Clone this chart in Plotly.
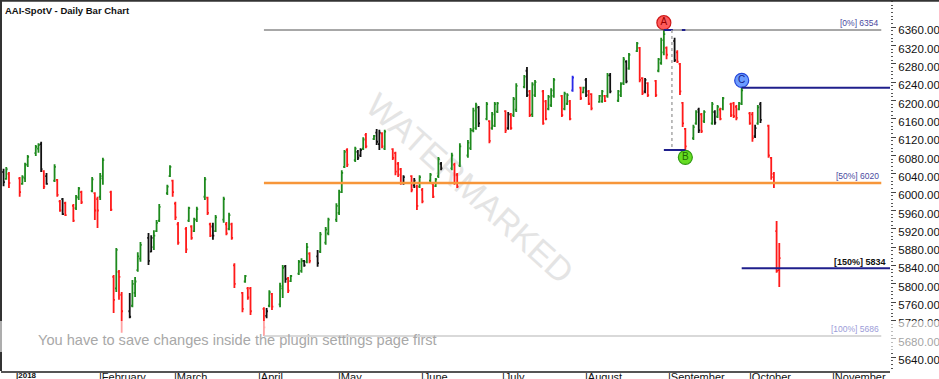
import plotly.graph_objects as go

# ---------------- data ----------------
dates = [
    "2017-12-27", "2017-12-28", "2017-12-29",
    "2018-01-02", "2018-01-03", "2018-01-04", "2018-01-05",
    "2018-01-08", "2018-01-09", "2018-01-10", "2018-01-11", "2018-01-12",
    "2018-01-15", "2018-01-16", "2018-01-17", "2018-01-18", "2018-01-19",
    "2018-01-22", "2018-01-23", "2018-01-24", "2018-01-25",
    "2018-01-29", "2018-01-30", "2018-01-31", "2018-02-01", "2018-02-02",
    "2018-02-05", "2018-02-06", "2018-02-07", "2018-02-08", "2018-02-09",
    "2018-02-12", "2018-02-13", "2018-02-14", "2018-02-15", "2018-02-16",
    "2018-02-19", "2018-02-20", "2018-02-21", "2018-02-22", "2018-02-23",
    "2018-02-26", "2018-02-27", "2018-02-28", "2018-03-01", "2018-03-02",
    "2018-03-05", "2018-03-06", "2018-03-07", "2018-03-08", "2018-03-09",
    "2018-03-12", "2018-03-13", "2018-03-14", "2018-03-15", "2018-03-16",
    "2018-03-19", "2018-03-20", "2018-03-21", "2018-03-22", "2018-03-23",
    "2018-03-26", "2018-03-27", "2018-03-28", "2018-03-29",
    "2018-04-03", "2018-04-04", "2018-04-05", "2018-04-06",
    "2018-04-09", "2018-04-10", "2018-04-11", "2018-04-12", "2018-04-13",
    "2018-04-16", "2018-04-17", "2018-04-18", "2018-04-19", "2018-04-20",
    "2018-04-23", "2018-04-24", "2018-04-26", "2018-04-27",
    "2018-04-30", "2018-05-01", "2018-05-02", "2018-05-03", "2018-05-04",
    "2018-05-07", "2018-05-08", "2018-05-09", "2018-05-10", "2018-05-11",
    "2018-05-14", "2018-05-15", "2018-05-16", "2018-05-17", "2018-05-18",
    "2018-05-21", "2018-05-22", "2018-05-23", "2018-05-24", "2018-05-25",
    "2018-05-28", "2018-05-29", "2018-05-30", "2018-05-31", "2018-06-01",
    "2018-06-04", "2018-06-05", "2018-06-06", "2018-06-07", "2018-06-08",
    "2018-06-12", "2018-06-13", "2018-06-14", "2018-06-15",
    "2018-06-18", "2018-06-19", "2018-06-20", "2018-06-21", "2018-06-22",
    "2018-06-25", "2018-06-26", "2018-06-27", "2018-06-28", "2018-06-29",
    "2018-07-02", "2018-07-03", "2018-07-04", "2018-07-05", "2018-07-06",
    "2018-07-09", "2018-07-10", "2018-07-11", "2018-07-12", "2018-07-13",
    "2018-07-16", "2018-07-17", "2018-07-18", "2018-07-19", "2018-07-20",
    "2018-07-23", "2018-07-24", "2018-07-25", "2018-07-26", "2018-07-27",
    "2018-07-30", "2018-07-31", "2018-08-01", "2018-08-02", "2018-08-03",
    "2018-08-06", "2018-08-07", "2018-08-08", "2018-08-09", "2018-08-10",
    "2018-08-13", "2018-08-14", "2018-08-15", "2018-08-16", "2018-08-17",
    "2018-08-20", "2018-08-21", "2018-08-22", "2018-08-23", "2018-08-24",
    "2018-08-27", "2018-08-28", "2018-08-29", "2018-08-30", "2018-08-31",
    "2018-09-03", "2018-09-04", "2018-09-05", "2018-09-06", "2018-09-07",
    "2018-09-10", "2018-09-11", "2018-09-12", "2018-09-13", "2018-09-14",
    "2018-09-17", "2018-09-18", "2018-09-19", "2018-09-20", "2018-09-21",
    "2018-09-24", "2018-09-25", "2018-09-26", "2018-09-27", "2018-09-28",
    "2018-10-01", "2018-10-02", "2018-10-03", "2018-10-04", "2018-10-05",
    "2018-10-08", "2018-10-09", "2018-10-10", "2018-10-11", "2018-10-12",
]

opens = [
    6044, 6029, 6040,
    6030, 6018, 6030, 6060,
    6085, 6095, 6105, 6046, 6035,
    6025, 6027, 5980, 5985, 5976,
    5970, 5965, 5988, 6000,
    6003, 5998, 5985, 5990, 6030,
    6000, 5815, 5790, 5826, 5776,
    5740, 5752, 5780, 5830, 5855,
    5900, 5870, 5880, 5915, 5938,
    5998, 6035, 6025, 5975, 5930,
    5920, 5938, 5925, 5915, 5940,
    5990, 5988, 5930, 5925, 5915,
    5940, 5930, 5920, 5930, 5840,
    5780, 5805, 5790, 5790,
    5745, 5730, 5752, 5778,
    5755, 5790, 5838, 5812, 5806,
    5822, 5828, 5850, 5848, 5866,
    5860, 5870, 5890, 5910,
    5940, 5955, 6000, 6055, 6092,
    6070, 6088, 6080, 6095, 6125,
    6116, 6130, 6105, 6128, 6095,
    6094, 6085, 6062, 6050, 6020,
    6035, 6015, 6012, 6012, 6005,
    6025, 6018, 6013, 6035, 6062,
    6052, 6060, 6038, 6058,
    6080, 6096, 6135, 6140, 6185,
    6160, 6155, 6140, 6145, 6176,
    6177, 6140, 6170, 6168, 6180,
    6230, 6265, 6220, 6170, 6212,
    6220, 6198, 6182, 6190, 6210,
    6210, 6182, 6193, 6198, 6222,
    6228, 6218, 6245, 6220, 6214,
    6197, 6198, 6210, 6210, 6255,
    6200, 6212, 6238, 6285, 6270,
    6308, 6315, 6249, 6220, 6238,
    6243, 6265, 6282, 6305, 6315,
    6330, 6305, 6280, 6195, 6138,
    6118, 6150, 6180, 6170, 6155,
    6150, 6175, 6165, 6180, 6182,
    6192, 6194, 6186, 6181, 6193,
    6172, 6170, 6122, 6150, 6192,
    6145, 6075, 6040, 5915, 5830,
]

highs = [
    6051, 6055, 6044,
    6033, 6037, 6064, 6081,
    6103, 6107, 6110, 6048, 6042,
    6061, 6029, 5983, 5987, 5979,
    5974, 5994, 6011, 6003,
    6033, 6000, 5990, 6042, 6075,
    6003, 5819, 5878, 5830, 5782,
    5780, 5808, 5815, 5869, 5891,
    5911, 5906, 5917, 5939, 5974,
    6016, 6059, 6027, 5979, 5935,
    5924, 5968, 5928, 5944, 5968,
    6033, 5990, 5933, 5933, 5950,
    5990, 5935, 5955, 5933, 5845,
    5782, 5819, 5793, 5793,
    5749, 5747, 5786, 5780,
    5802, 5841, 5841, 5815, 5819,
    5852, 5856, 5852, 5889, 5869,
    5874, 5913, 5924, 5944,
    5976, 6005, 6048, 6092, 6096,
    6099, 6092, 6096, 6120, 6129,
    6125, 6138, 6136, 6131, 6136,
    6096, 6088, 6066, 6053, 6037,
    6037, 6031, 6016, 6037, 6009,
    6042, 6020, 6031, 6077, 6066,
    6086, 6064, 6042, 6107,
    6114, 6140, 6184, 6195, 6188,
    6197, 6157, 6175, 6197, 6197,
    6179, 6175, 6173, 6208, 6238,
    6256, 6273, 6223, 6240, 6245,
    6223, 6201, 6212, 6227, 6249,
    6212, 6219, 6216, 6201, 6254,
    6230, 6230, 6249, 6223, 6216,
    6212, 6223, 6212, 6260, 6260,
    6223, 6240, 6295, 6288, 6304,
    6328, 6317, 6251, 6249, 6240,
    6245, 6293, 6337, 6354, 6318,
    6337, 6310, 6282, 6197, 6140,
    6147, 6179, 6184, 6173, 6179,
    6197, 6179, 6190, 6184, 6208,
    6195, 6197, 6190, 6197, 6228,
    6175, 6175, 6147, 6190, 6197,
    6147, 6077, 6044, 5937, 5889,
]

lows = [
    6013, 6027, 6009,
    5990, 6016, 6022, 6055,
    6079, 6086, 6044, 6007, 6016,
    6022, 5990, 5957, 5950, 5948,
    5935, 5961, 5983, 5974,
    6000, 5939, 5922, 5983, 6016,
    5959, 5736, 5782, 5765, 5693,
    5725, 5749, 5771, 5826, 5848,
    5841, 5869, 5874, 5913, 5935,
    5994, 6033, 5990, 5939, 5885,
    5867, 5935, 5896, 5913, 5935,
    5983, 5950, 5902, 5896, 5913,
    5933, 5906, 5917, 5896, 5791,
    5738, 5802, 5765, 5732,
    5686, 5725, 5749, 5743,
    5749, 5769, 5802, 5780, 5804,
    5819, 5824, 5837, 5845, 5845,
    5837, 5867, 5885, 5906,
    5935, 5950, 5998, 6053, 6055,
    6066, 6070, 6077, 6092, 6096,
    6114, 6103, 6092, 6096, 6092,
    6070, 6037, 6033, 6016, 6016,
    6000, 6009, 5961, 6009, 5976,
    6022, 5987, 6011, 6031, 6048,
    6048, 6016, 6009, 6055,
    6075, 6092, 6131, 6136, 6142,
    6157, 6107, 6136, 6142, 6173,
    6129, 6136, 6136, 6164, 6175,
    6227, 6208, 6164, 6164, 6208,
    6147, 6157, 6179, 6186, 6206,
    6164, 6179, 6190, 6157, 6219,
    6201, 6216, 6208, 6190, 6179,
    6195, 6195, 6197, 6206, 6216,
    6197, 6208, 6234, 6238, 6267,
    6306, 6240, 6212, 6216, 6208,
    6208, 6262, 6278, 6299, 6290,
    6284, 6282, 6212, 6142, 6092,
    6114, 6147, 6129, 6129, 6151,
    6147, 6147, 6162, 6157, 6179,
    6164, 6162, 6157, 6179, 6190,
    6147, 6110, 6118, 6147, 6151,
    6075, 6027, 6009, 5824, 5793,
]

closes = [
    6022, 6050, 6020,
    6000, 6033, 6060, 6077,
    6099, 6103, 6050, 6012, 6018,
    6055, 5994, 5960, 5952, 5950,
    5938, 5990, 6008, 5978,
    6028, 5960, 5960, 6035, 6070,
    5962, 5765, 5874, 5815, 5740,
    5728, 5800, 5805, 5860, 5885,
    5850, 5900, 5905, 5933, 5968,
    6012, 6055, 6000, 5945, 5890,
    5875, 5965, 5900, 5940, 5963,
    6028, 5955, 5905, 5905, 5945,
    5985, 5910, 5950, 5900, 5800,
    5745, 5817, 5770, 5740,
    5705, 5740, 5782, 5750,
    5795, 5835, 5810, 5785, 5817,
    5848, 5850, 5840, 5880, 5850,
    5845, 5908, 5918, 5940,
    5970, 6000, 6042, 6088, 6060,
    6095, 6075, 6092, 6115, 6100,
    6123, 6110, 6130, 6100, 6132,
    6075, 6045, 6038, 6020, 6033,
    6005, 6025, 5970, 6033, 5980,
    6038, 5990, 6028, 6072, 6052,
    6080, 6020, 6012, 6100,
    6108, 6135, 6178, 6190, 6150,
    6192, 6112, 6170, 6192, 6194,
    6135, 6170, 6140, 6203, 6232,
    6252, 6212, 6168, 6235, 6240,
    6150, 6160, 6208, 6222, 6245,
    6168, 6215, 6212, 6160, 6250,
    6205, 6228, 6212, 6193, 6183,
    6210, 6220, 6199, 6255, 6220,
    6220, 6236, 6290, 6242, 6300,
    6325, 6245, 6216, 6245, 6212,
    6212, 6290, 6332, 6345, 6300,
    6288, 6285, 6220, 6150, 6100,
    6142, 6175, 6135, 6133, 6175,
    6192, 6152, 6186, 6160, 6205,
    6168, 6166, 6162, 6194, 6222,
    6150, 6118, 6140, 6185, 6158,
    6080, 6033, 6020, 5828, 5856,
]

# bar classification used by the charting package (g=up, r=down, k=neutral, b=flagged)
bar_class = list(
    "kgr" "rggg" "ggkrk" "grrkr" "rggr" "grrgg" "rrgrr" "kgggg" "kkggg"
    "ggrrr" "rgrgg" "grrkg" "grgrr" "rgrr" "rkgr" "ggkrg" "ggkgr" "kggg"
    "ggggr" "gkkgr" "gkkrg" "rrrrk" "rkrgr" "grggk" "grrg" "ggggk" "grggg"
    "rkrgg" "gkrgg" "rrggg" "rggrb" "rgkrr" "ggrgk" "gggkg" "grrkr" "rgggr"
    "krrrr" "ggkrg" "gkgrg" "rrrgg" "rrkgk" "rrrrr"
)

# retracement levels shown on the chart
level_pct = ["0%", "50%", "100%", "150%"]
level_val = [6354, 6020, 5686, 5834]

# A-B-C pivots
pivot_names = ["A", "B", "C"]
pivot_dates = ["2018-08-30", "2018-09-07", "2018-09-28"]
pivot_side = ["high", "low", "high"]
measure_date = "2018-09-02"

month_dates = ["2018-01-01", "2018-02-01", "2018-03-01", "2018-04-01", "2018-05-01",
               "2018-06-01", "2018-07-01", "2018-08-01", "2018-09-01", "2018-10-01",
               "2018-11-01"]
month_names = ["2018", "February", "March", "April", "May", "June", "July",
               "August", "September", "October", "November"]

y_ticks = list(range(5640, 6361, 40))

assert len(dates) == len(opens) == len(highs) == len(lows) == len(closes) == len(bar_class)

# ---------------- figure ----------------
X_START = "2017-12-26 01:00"
X_END = "2018-11-22 06:00"
LINE_END = "2018-11-19"

colors = {"g": "#1e8a1e", "r": "#ff1a1a", "k": "#111111", "b": "#2a2ae8"}

fig = go.Figure()
for cls, col in colors.items():
    def pick(arr):
        return [v if c == cls else None for v, c in zip(arr, bar_class)]
    fig.add_trace(go.Ohlc(
        x=dates, open=pick(opens), high=pick(highs), low=pick(lows), close=pick(closes),
        increasing=dict(line=dict(color=col, width=1.8)),
        decreasing=dict(line=dict(color=col, width=1.8)),
        tickwidth=0.5, showlegend=False, hoverinfo="skip",
    ))

lvl = dict(zip(level_pct, level_val))
low_date = dates[lows.index(min(lows))]
piv_val = []
for d, s in zip(pivot_dates, pivot_side):
    i = dates.index(d)
    piv_val.append(highs[i] if s == "high" else lows[i])
A_d, B_d, C_d = pivot_dates
A_v, B_v, C_v = piv_val

shapes = []
# watermark (below the bars)
shapes.append(dict(type="rect", xref="paper", yref="paper", x0=0.42, x1=0.64, y0=0.25, y1=0.75,
                   line=dict(width=0), fillcolor="rgba(0,0,0,0)", layer="below",
                   label=dict(text="WATERMARKED", textangle=42, textposition="middle center",
                              font=dict(size=34, color="#e4e4e4", family="Liberation Sans"))))
# retracement lines
shapes.append(dict(type="line", xref="x", yref="y", x0=low_date, x1=LINE_END, y0=lvl["0%"], y1=lvl["0%"],
                   line=dict(color="#505050", width=1)))
shapes.append(dict(type="line", xref="x", yref="y", x0=low_date, x1=LINE_END, y0=lvl["50%"], y1=lvl["50%"],
                   line=dict(color="#f7963a", width=2.5)))
shapes.append(dict(type="line", xref="x", yref="y", x0=low_date, x1=LINE_END, y0=lvl["100%"], y1=lvl["100%"],
                   line=dict(color="#808080", width=1.5)))
shapes.append(dict(type="line", xref="x", yref="y", x0=C_d, x1=X_END, y0=lvl["150%"], y1=lvl["150%"],
                   line=dict(color="#1f1f8c", width=2)))
# ABC helper lines
shapes.append(dict(type="line", xref="x", yref="y", x0=C_d, x1=X_END, y0=C_v, y1=C_v,
                   line=dict(color="#1f1f8c", width=2)))
shapes.append(dict(type="line", xref="x", yref="y", x0=A_d, x1=B_d, y0=B_v, y1=B_v,
                   line=dict(color="#1f1f8c", width=2)))
shapes.append(dict(type="line", xref="x", yref="y", x0=A_d, x1=B_d, y0=A_v, y1=A_v,
                   line=dict(color="#1f1f8c", width=2, dash="dash")))
shapes.append(dict(type="line", xref="x", yref="y", x0=measure_date, x1=measure_date, y0=A_v, y1=B_v,
                   line=dict(color="#a8a8a8", width=1.5, dash="dot")))
# frame
shapes.append(dict(type="line", xref="paper", yref="paper", x0=0, x1=0, y0=0, y1=1.003,
                   line=dict(color="#333333", width=2), layer="above"))
shapes.append(dict(type="line", xref="paper", yref="paper", x0=0, x1=1.06, y0=1.001, y1=1.001,
                   line=dict(color="#333333", width=2), layer="above"))
# translucent notice band
shapes.append(dict(type="rect", xref="paper", yref="paper", x0=-0.01, x1=1.06, y0=0.0514, y1=0.135,
                   line=dict(width=0), fillcolor="rgba(255,255,255,0.6)", layer="above"))
fig.update_layout(shapes=shapes)

# pivot circles
circle_fill = ["#ff5c5c", "#66dd22", "#6c9cff"]
circle_line = ["#d01818", "#2f9a10", "#2244d8"]
circle_text = ["#9a0000", "#1f6a00", "#10208a"]
offs = [16, -16, 16]
fig.add_trace(go.Scatter(
    x=pivot_dates, y=[v + o for v, o in zip(piv_val, offs)], mode="markers+text",
    text=pivot_names, textposition="middle center",
    textfont=dict(size=10, color=circle_text, family="Liberation Sans"),
    marker=dict(size=14, color=circle_fill, line=dict(color=circle_line, width=1.2)),
    showlegend=False, hoverinfo="skip", cliponaxis=False,
))

annotations = []
# title
annotations.append(dict(xref="paper", yref="paper", x=0, y=1, xanchor="left", yanchor="top",
                        xshift=2, yshift=-2, showarrow=False,
                        text="<b>AAI-SpotV - Daily Bar Chart</b>",
                        font=dict(size=9.5, color="#111111", family="Liberation Sans")))
# level labels
lbl_color = {"0%": "#4a4aa0", "50%": "#4a4aa0", "100%": "#9c9cd8"}
for p, v in zip(level_pct, level_val):
    if p == "150%":
        annotations.append(dict(xref="x", yref="y", x=LINE_END, y=v, xanchor="right", yanchor="bottom",
                                xshift=7, yshift=-1, showarrow=False, text=f"<b>[{p}] {v}</b>",
                                font=dict(size=9, color="#111111", family="Liberation Sans")))
    else:
        annotations.append(dict(xref="x", yref="y", x=LINE_END, y=v, xanchor="right", yanchor="bottom",
                                xshift=0, yshift=0, showarrow=False, text=f"[{p}] {v}",
                                font=dict(size=8.5, color=lbl_color[p], family="Liberation Sans")))
# month labels (the reference shows them partly cut by the bottom edge)
for d, m in zip(month_dates, month_names):
    t = f"<b>|{m}</b>" if m == "2018" else f"|{m}"
    annotations.append(dict(xref="x", yref="paper", x=d, y=0, xanchor="left", yanchor="top",
                            xshift=-3, yshift=2, showarrow=False, text=t,
                            font=dict(size=8 if m == "2018" else 11, color="#111111",
                                      family="Liberation Sans")))
# notice text
annotations.append(dict(xref="paper", yref="paper", x=0.0394, y=0.0838, xanchor="left", yanchor="middle",
                        showarrow=False,
                        text="You have to save changes inside the plugin settings page first",
                        font=dict(size=14.6, color="#a8a8a8", family="Liberation Sans")))
fig.update_layout(annotations=annotations)

fig.update_layout(
    template="none",
    width=939, height=379,
    margin=dict(l=1, r=49, t=1, b=8, pad=0),
    paper_bgcolor="white", plot_bgcolor="white",
    showlegend=False,
    xaxis=dict(type="date", range=[X_START, X_END], showgrid=False, zeroline=False,
               showticklabels=False, ticks="", showline=True, linecolor="#555555", linewidth=1.5,
               rangeslider=dict(visible=False), automargin=False, fixedrange=True),
    yaxis=dict(side="right", range=[5609.6, 6417.3], showgrid=False, zeroline=False,
               tickvals=y_ticks, ticktext=[f"{v:.2f}" for v in y_ticks],
               ticks="outside", ticklen=5, tickwidth=1, tickcolor="#444444",
               ticklabelshift=3,
               tickfont=dict(size=11.5, color="#111111", family="Liberation Sans"),
               minor=dict(dtick=8, tick0=5640, ticks="outside", ticklen=2, tickcolor="#555555", tickwidth=1),
               showline=False, automargin=False, fixedrange=True),
)

fig.write_html("out.html")
